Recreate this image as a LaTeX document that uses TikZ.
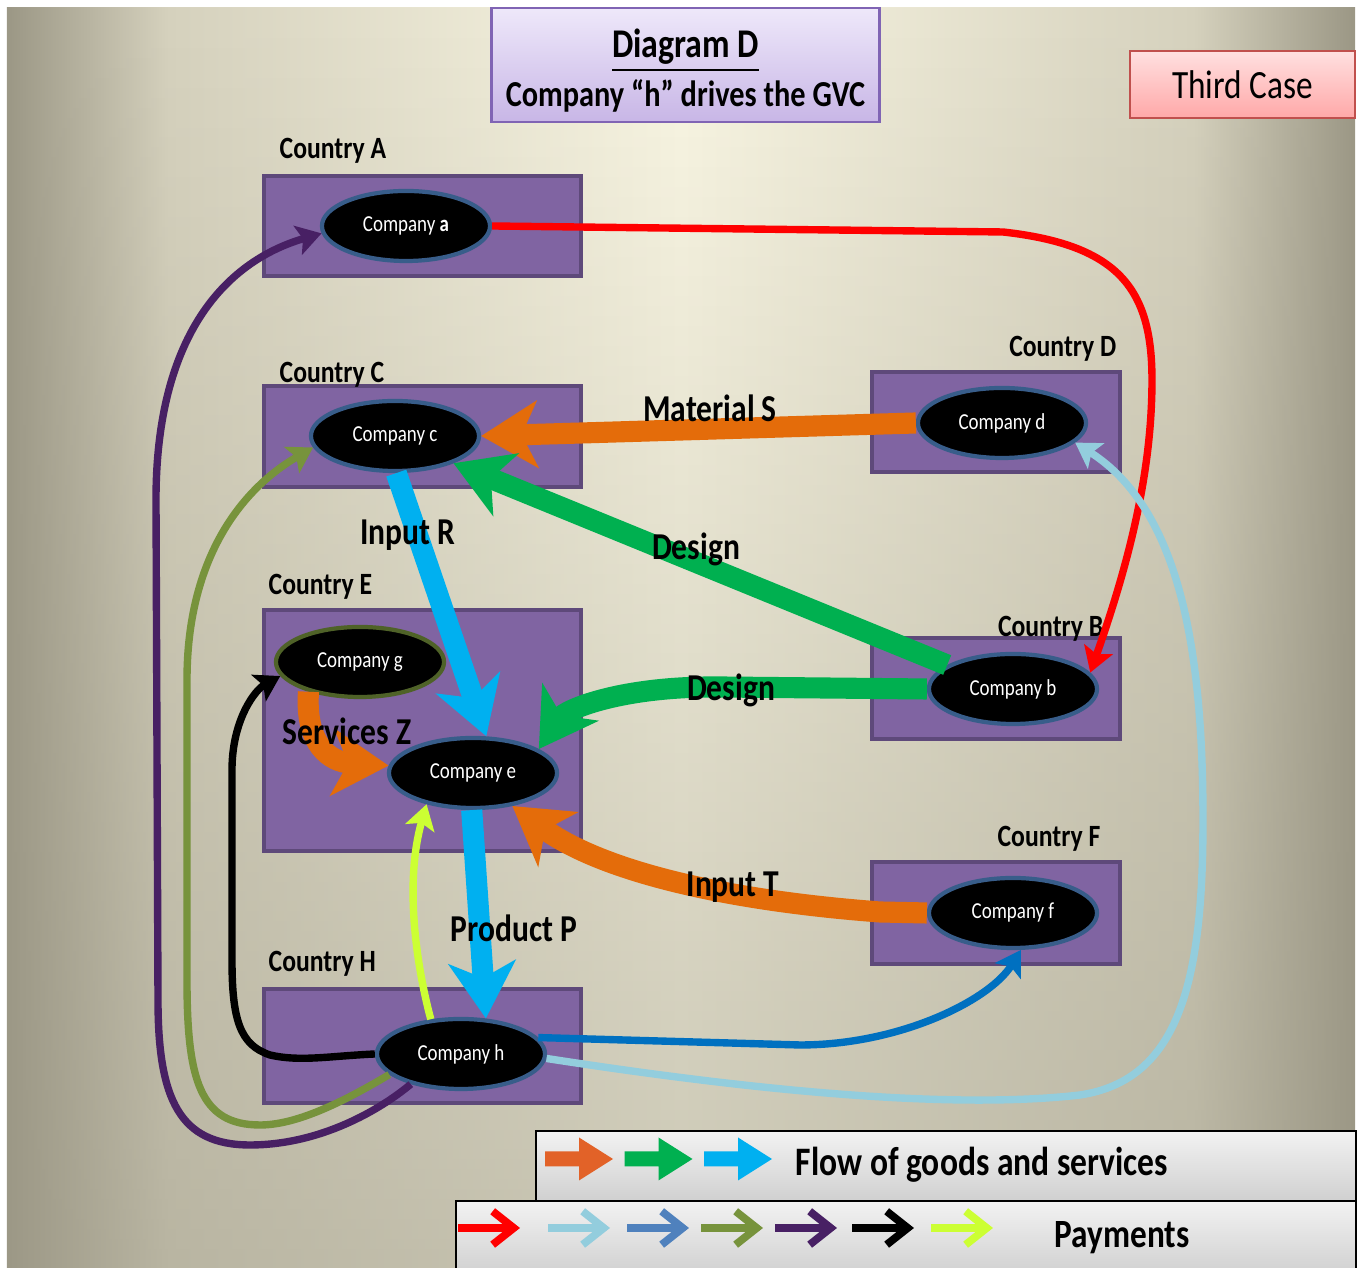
\documentclass[tikz,border=0pt]{standalone}
\usepackage{fontspec}
\setmainfont{Carlito}[FakeStretch=0.83]
\usetikzlibrary{arrows.meta,positioning,shapes.geometric,fadings}
\definecolor{bglight}{RGB}{250,247,228}
\definecolor{bgmid}{RGB}{214,210,190}
\definecolor{bgdark}{RGB}{156,152,134}
\definecolor{boxfill}{RGB}{128,100,162}
\definecolor{boxline}{RGB}{94,73,122}
\definecolor{firmline}{RGB}{56,93,138}
\definecolor{gline}{RGB}{79,98,40}
\definecolor{goodsorange}{RGB}{228,108,10}
\definecolor{legorange}{RGB}{226,98,40}
\definecolor{goodsgreen}{RGB}{0,176,80}
\definecolor{goodscyan}{RGB}{0,176,240}
\definecolor{payred}{RGB}{255,0,0}
\definecolor{paysky}{RGB}{147,205,221}
\definecolor{paysteel}{RGB}{0,112,192}
\definecolor{legsteel}{RGB}{79,129,189}
\definecolor{payolive}{RGB}{119,147,60}
\definecolor{paypurple}{RGB}{72,32,100}
\definecolor{paylime}{RGB}{204,255,51}
\definecolor{titletop}{RGB}{238,232,250}
\definecolor{titlebot}{RGB}{200,182,230}
\definecolor{titleline}{RGB}{128,100,180}
\definecolor{casetop}{RGB}{255,224,224}
\definecolor{casebot}{RGB}{255,168,168}
\definecolor{caseline}{RGB}{192,80,77}
\definecolor{legtop}{RGB}{242,242,242}
\definecolor{legbot}{RGB}{208,208,208}
\pgfdeclarehorizontalshading{backdrop}{100bp}{color(0bp)=(bgdark); color(25bp)=(bgdark);
  color(31bp)=(bgmid); color(50bp)=(bglight); color(69bp)=(bgmid); color(75bp)=(bgdark); color(100bp)=(bgdark)}
\tikzfading[name=bgfade,top color=transparent!100,bottom color=transparent!0]
\tikzset{
  country/.style={draw=boxline,fill=boxfill,line width=1.2pt,inner sep=0pt},
  firm/.style={ellipse,fill=black,draw=#1,line width=1.2pt,text=white,inner sep=0pt,
    minimum width=1.68cm,minimum height=0.70cm,font=\fontsize{6.5}{7}\selectfont},
  firm/.default=firmline,
  ctrylabel/.style={font=\bfseries\fontsize{8.8}{10}\selectfont,inner sep=0pt},
  flowtag/.style={font=\bfseries\fontsize{10.8}{12}\selectfont,inner sep=0pt},
  goods/.style={draw=#1,line width=6pt,-{Stealth[length=16pt,width=19pt,inset=4.5pt]}},
  pay/.style={draw=#1,line width=2.1pt,-{Stealth[length=7pt,width=8.5pt,inset=1.5pt]}},
  legbox/.style={draw=black,line width=0.8pt,top color=legtop,bottom color=legbot},
  % legend pictograms
  pics/blockarrow/.style={code={
    \fill[#1] (0,-7.5) -- (34,-7.5) -- (34,-21.5) -- (68,0) -- (34,21.5) -- (34,7.5) -- (0,7.5) -- cycle;
  }},
  pics/payarrow/.style={code={
    \draw[#1,line width=2.2pt,-{Straight Barb[length=6pt,width=9.5pt]}] (0,0) -- (62,0);
  }},
}

\begin{document}
\begin{tikzpicture}[x=0.01cm,y=-0.01cm]
    \useasboundingbox (0,0) rectangle (1362,1268);
    % backdrop
    \shade[shading=backdrop] (7,8) rectangle (1355,1268);
    \fill[bgdark,fill opacity=0.5,path fading=bgfade] (7,8) rectangle (1355,1268);
    \node[draw=titleline,line width=0.8pt,top color=titletop,bottom color=titlebot,
      minimum width=3.87cm,minimum height=1.14cm,inner sep=0pt] (title) at (685.5,65) {};
    \node[align=center,inner sep=0pt,font=\bfseries\fontsize{10.4}{13.9}\selectfont] (titletext)
      at ([yshift=-0.6mm]title.center) {{\fontsize{11.6}{13.9}\selectfont\underline{Diagram D}}\\Company “h” drives the GVC};
    \node[draw=caseline,line width=0.8pt,top color=casetop,bottom color=casebot,
      minimum width=2.25cm,minimum height=0.67cm,font=\fontsize{11.4}{12}\selectfont] (case) at (1242.5,84.5) {Third Case};
    % countries
    \foreach \n/\x/\y/\w/\h in {A/422.5/226/3.17/1.00, C/422.5/436.5/3.17/1.01,
      E/422.5/730.5/3.17/2.41, H/422.5/1046/3.17/1.14,
      D/996/422/2.48/1.00, B/996/688.5/2.48/1.01, F/996/913/2.48/1.02}
      \node[country,minimum width=\w cm,minimum height=\h cm] (box\n) at (\x,\y) {};
    \foreach \n/\x/\y/\anc in {A/279/159/base west, C/279/383/base west, E/268/595/base west,
      H/268/972/base west, D/1117/357/base east, B/1104/637/base east, F/1101/847/base east}
      \node[ctrylabel,anchor=\anc] (lab\n) at (\x,\y) {Country \n};
    % companies
    \node[firm] (coa) at (406,226) {Company \textbf{a}};
    \node[firm=gline] (cog) at (360,662) {Company g};
    \foreach \n/\x/\y in {c/395/436, d/1002/423, e/473/773, b/1013/689, f/1013/913, h/461/1054}
      \node[firm] (co\n) at (\x,\y) {Company \n};
    % goods and services
    \draw[goods=goodsorange] (cod.west) -- (coc.east);
    \draw[goods=goodsgreen] (cob.160) -- (coc.-25);
    \draw[goods=goodsgreen] (cob.west) -- (720,687) .. controls (620,686) and (565,710) .. (coe.20);
    \draw[goods=goodscyan] (coc.-88) -- (coe.70);
    \draw[goods=goodscyan] (coe.-92) -- (coh.55);
    \draw[goods=goodsorange] (cof.west) -- (880,912) .. controls (720,900) and (600,870) .. (coe.-40);
    \draw[goods=goodsorange] (cog.-150) .. controls (305,745) and (330,762) .. (coe.175);
    % payments
    \draw[pay=payred] (coa.east) -- (1003,232) .. controls (1120,245) and (1152,290) .. (1152,380)
      .. controls (1152,470) and (1130,560) .. (cob.12);
    \draw[pay=paysky] (coh.-3) .. controls (750,1090) and (950,1110) .. (1080,1095)
      .. controls (1180,1080) and (1203,980) .. (1203,820) .. controls (1203,650) and (1180,510) .. (cod.-15);
    \draw[pay=paysteel] (coh.12) -- (800,1045) .. controls (900,1045) and (990,1000) .. (cof.-78);
    \draw[pay=payolive] (coh.-164) .. controls (330,1110) and (290,1125) .. (260,1125)
      .. controls (200,1125) and (187,1080) .. (187,980) -- (187,680) .. controls (187,560) and (240,490) .. (coc.188);
    \draw[pay=paypurple] (coh.-149) .. controls (380,1110) and (320,1145) .. (250,1145)
      .. controls (180,1145) and (158,1100) .. (158,1000) -- (156,500) .. controls (156,330) and (230,260) .. (coa.185);
    \draw[pay=black] (coh.west) .. controls (330,1056) and (300,1062) .. (270,1055)
      .. controls (240,1045) and (232,1020) .. (232,960) -- (232,770) .. controls (232,720) and (255,690) .. (cog.190);
    \draw[pay=paylime] (coh.131) .. controls (415,960) and (405,880) .. (coe.-146);
    % flow names
    \node[flowtag] (tagS) at (710,408) {Material S};
    \node[flowtag] (tagD1) at (696,549) {Design};
    \node[flowtag] (tagD2) at (731,690) {Design};
    \node[flowtag] (tagR) at (408,535) {Input R};
    \node[flowtag] (tagZ) at (347,731) {Services Z};
    \node[flowtag] (tagP) at (514,928) {Product P};
    \node[flowtag] (tagT) at (733,887) {Input T};
    % legend
    \draw[legbox] (536,1131) rectangle (1356,1201);
    \draw[legbox] (456,1201) rectangle (1356,1275);
    \foreach \c [count=\i] in {legorange,goodsgreen,goodscyan}
      \pic at ({545+(\i-1)*79.5},1159) {blockarrow=\c};
    \node[font=\bfseries\fontsize{11.5}{12}\selectfont] (legflow) at (982,1165) {Flow of goods and services};
    \foreach \c/\x in {payred/458, paysky/548, legsteel/627, payolive/701, paypurple/775, black/852, paylime/931}
      \pic at (\x,1228) {payarrow=\c};
    \node[font=\bfseries\fontsize{11.4}{12}\selectfont] (legpay) at (1122,1238) {Payments};
\end{tikzpicture}
\end{document}
